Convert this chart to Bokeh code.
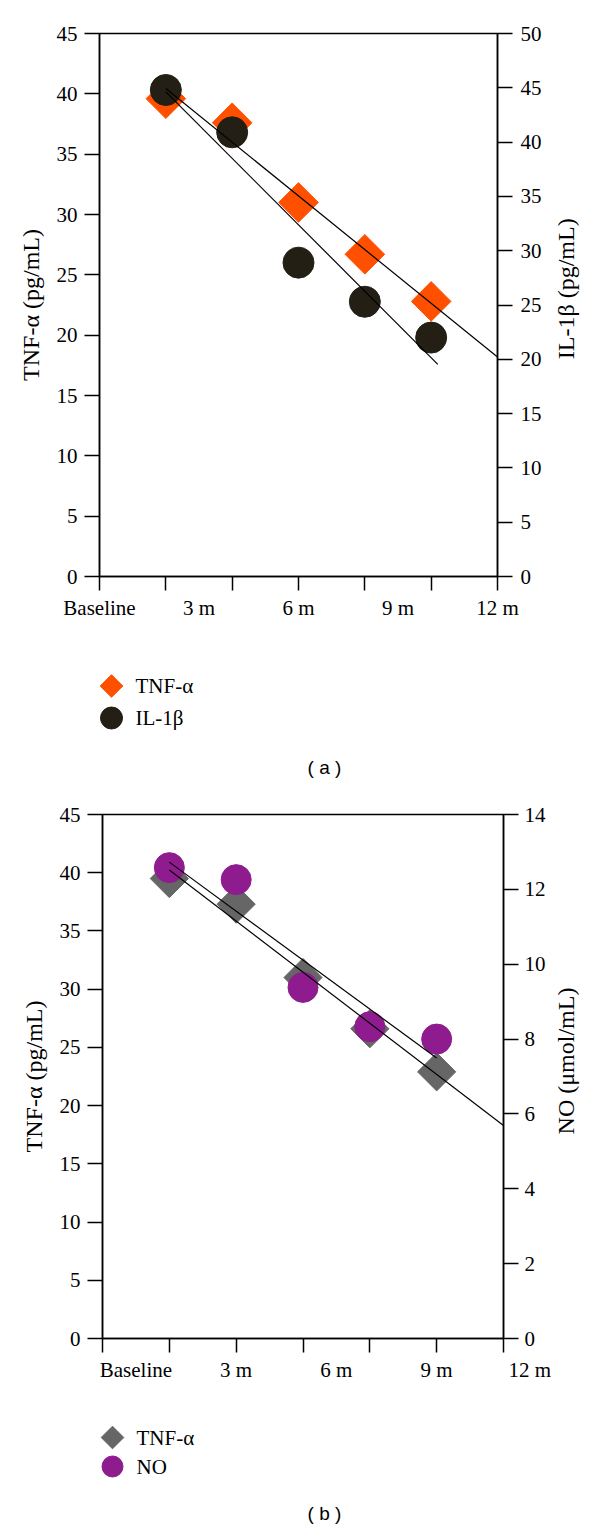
import numpy as np
from math import pi
from bokeh.plotting import figure
from bokeh.models import Range1d, LinearAxis, FixedTicker
from bokeh.layouts import column, row
from bokeh.embed import file_html
from bokeh.resources import INLINE
from bokeh.core.properties import value

# ---------------- data ----------------
time_points = [2, 4, 6, 8, 10]
tnf_a = [39.6, 37.6, 31.0, 26.7, 22.8]      # TNF-alpha (pg/mL), left axis, panel a
il1b_a = [44.8, 40.9, 28.9, 25.3, 22.0]     # IL-1beta (pg/mL), right axis, panel a
tnf_b = [39.5, 37.3, 31.0, 26.6, 22.9]      # TNF-alpha (pg/mL), left axis, panel b
no_b = [12.58, 12.26, 9.38, 8.33, 8.00]     # NO (umol/mL), right axis, panel b

x_tick_marks = [0, 2, 4, 6, 8, 10, 12]
x_tick_labels = ["Baseline", "3 m", "6 m", "9 m", "12 m"]
x_label_pos_a = [0, 3, 6, 9, 12]
x_label_pos_b = [1, 4, 7, 10, 12]
left_ticks = [0, 5, 10, 15, 20, 25, 30, 35, 40, 45]
right_ticks_a = [0, 5, 10, 15, 20, 25, 30, 35, 40, 45, 50]
right_ticks_b = [0, 2, 4, 6, 8, 10, 12, 14]

legend_a = ["TNF-α", "IL-1β"]
legend_b = ["TNF-α", "NO"]

# ---------------- style ----------------
SERIF = "Liberation Serif"
SANS = "Liberation Sans"
ORANGE = "#FF5000"
DARK = "#231F14"
GRAY = "#666666"
PURPLE = "#8E1C8E"
NBSP = "\u00A0"
TOTAL_W = 592


def fit_line(xs, ys, x_end):
    k, b = np.polyfit(xs, ys, 1)
    xl = [xs[0], x_end]
    return xl, [k * x + b for x in xl]


def style_axis(ax, standoff):
    ax.axis_line_color = "black"
    ax.axis_line_width = 1.5
    ax.major_tick_line_color = "black"
    ax.major_tick_line_width = 1.5
    ax.major_tick_in = 0
    ax.major_tick_out = 15
    ax.minor_tick_line_color = None
    ax.major_label_text_font = SERIF
    ax.major_label_text_font_size = "21px"
    ax.major_label_text_color = "black"
    ax.major_label_standoff = standoff
    ax.axis_label_text_font = SERIF
    ax.axis_label_text_font_size = "24px"
    ax.axis_label_text_font_style = "normal"
    ax.axis_label_text_color = "black"


def make_panel(fw, fh, bl, br, bt, bb, right_max, right_ticks, label_pos, last_pad, right_standoff):
    p = figure(frame_width=fw, frame_height=fh, x_range=Range1d(0, 12), y_range=Range1d(0, 45),
               min_border_left=bl, min_border_right=br, min_border_top=bt, min_border_bottom=bb,
               output_backend="svg", toolbar_location=None)
    p.grid.visible = False
    p.outline_line_color = "black"
    p.outline_line_width = 1.5
    p.outline_line_alpha = 1
    p.background_fill_color = "white"
    p.border_fill_color = "white"
    p.extra_y_ranges = {"right": Range1d(0, right_max)}

    ly = p.yaxis[0]
    ly.ticker = FixedTicker(ticks=left_ticks)
    style_axis(ly, 7)
    ly.axis_label = "TNF-α (pg/mL)"
    ly.axis_label_standoff = 10

    ra = LinearAxis(y_range_name="right", ticker=FixedTicker(ticks=right_ticks))
    style_axis(ra, right_standoff)
    p.add_layout(ra, "right")

    bx = p.xaxis[0]
    bx.ticker = FixedTicker(ticks=label_pos, minor_ticks=x_tick_marks)
    style_axis(bx, 5)
    bx.major_tick_out = 14
    bx.major_tick_line_color = None
    bx.minor_tick_line_color = "black"
    bx.minor_tick_line_width = 1.5
    bx.minor_tick_in = 0
    bx.minor_tick_out = 14
    labels = list(x_tick_labels)
    labels[-1] = NBSP * last_pad + labels[-1]
    bx.major_label_overrides = {float(k): v for k, v in zip(label_pos, labels)}
    return p


def make_side_title(width, height, text, x, y_from_top):
    t = figure(width=width, height=height, x_range=Range1d(0, width), y_range=Range1d(0, height),
               min_border=0, x_axis_type=None, y_axis_type=None,
               output_backend="svg", toolbar_location=None)
    t.grid.visible = False
    t.outline_line_color = None
    t.background_fill_color = "white"
    t.border_fill_color = "white"
    t.text(x=[x], y=[height - y_from_top], text=[text], angle=pi / 2,
           text_font=value(SERIF), text_font_size="24px", text_align="center",
           text_baseline="middle", text_color="black")
    return t


def make_legend(height, names, markers, colors, sizes, angles, rows, caption, cap_y, cap_size, mark_x):
    lg = figure(width=TOTAL_W, height=height, x_range=Range1d(0, TOTAL_W), y_range=Range1d(height, 0),
                min_border=0, x_axis_type=None, y_axis_type=None,
                output_backend="svg", toolbar_location=None)
    lg.grid.visible = False
    lg.outline_line_color = None
    lg.background_fill_color = "white"
    lg.border_fill_color = "white"
    for i, name in enumerate(names):
        lg.scatter([mark_x], [rows[i]], marker=markers[i], size=sizes[i], angle=angles[i],
                   fill_color=colors[i], line_color=colors[i])
    lg.text(x=[mark_x + 24] * len(names), y=rows, text=names, text_font=value(SERIF),
            text_font_size="21px", text_align="left", text_baseline="middle", text_color="black")
    lg.text(x=[324], y=[cap_y], text=[caption], text_font=value(SANS), text_font_size=cap_size,
            text_align="center", text_baseline="middle", text_color="black")
    return lg


# ---------------- panel (a) ----------------
pa = make_panel(398, 543, 99, 56, 33, 60, 50, right_ticks_a, x_label_pos_a, 0, 8)
pa.scatter(time_points, tnf_a, marker="square", angle=pi / 4, size=28,
           fill_color=ORANGE, line_color=ORANGE)
pa.scatter(time_points, il1b_a, marker="circle", size=31, fill_color=DARK, line_color=DARK,
           y_range_name="right")
xl, yl = fit_line(time_points, tnf_a, 12)
pa.line(xl, yl, line_color="black", line_width=1.2)
xl, yl = fit_line(time_points, il1b_a, 10.2)
pa.line(xl, yl, line_color="black", line_width=1.2, y_range_name="right")
ta = make_side_title(39, 636, "IL-1β (pg/mL)", 12, 299)

la = make_legend(154, legend_a, ["square", "circle"], [ORANGE, DARK], [16, 22], [pi / 4, 0],
                 [49.5, 81.5], "( a )", 131, "19px", 111)

# ---------------- panel (b) ----------------
pb = make_panel(401, 524, 102, 50, 24, 60, 14, right_ticks_b, x_label_pos_b, 10, 6)
pb.scatter(time_points, tnf_b, marker="square", angle=pi / 4, size=27,
           fill_color=GRAY, line_color=GRAY)
pb.scatter(time_points, no_b, marker="circle", size=30, fill_color=PURPLE, line_color=PURPLE,
           y_range_name="right")
xl, yl = fit_line(time_points, tnf_b, 12)
pb.line(xl, yl, line_color="black", line_width=1.2)
xl, yl = fit_line(time_points, no_b, 10)
pb.line(xl, yl, line_color="black", line_width=1.2, y_range_name="right")
tb = make_side_title(39, 608, "NO (μmol/mL)", 12, 286)

lb = make_legend(132, legend_b, ["square", "circle"], [GRAY, PURPLE], [16, 21], [pi / 4, 0],
                 [39, 68], "( b )", 115, "19px", 112)

layout = column(row(pa, ta, spacing=0), la, row(pb, tb, spacing=0), lb, spacing=0)
open("out.html", "w").write(file_html(layout, INLINE))
